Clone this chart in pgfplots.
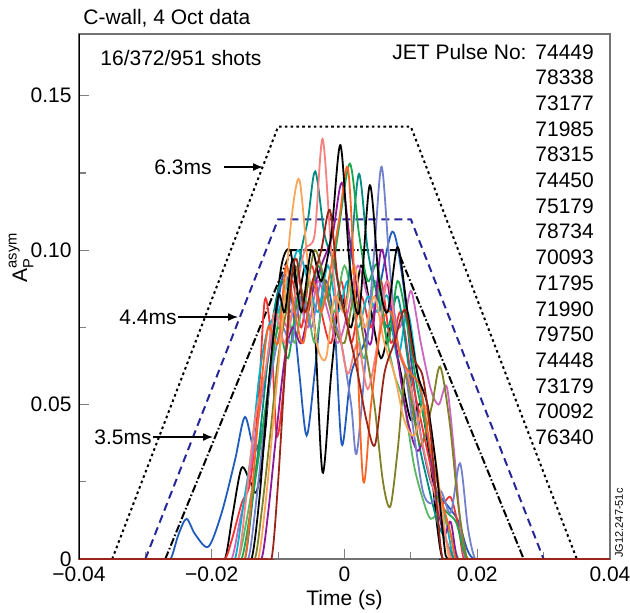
\documentclass[border=0pt]{standalone}
\usepackage{fontspec}
\setmainfont{Liberation Sans}
\usepackage{amsmath}
\usepackage{pgfplots}
\pgfplotsset{compat=1.18}
\usetikzlibrary{calc,arrows.meta}

\definecolor{cBlue}{rgb}{0.13,0.36,0.74}
\definecolor{cRed}{rgb}{0.95,0.20,0.20}
\definecolor{cCyan}{rgb}{0.00,0.70,0.80}
\definecolor{cPink}{rgb}{0.80,0.40,0.75}
\definecolor{cGreen}{rgb}{0.10,0.65,0.30}
\definecolor{cOrRed}{rgb}{0.98,0.40,0.15}
\definecolor{cOlive}{rgb}{0.50,0.50,0.15}
\definecolor{cBrown}{rgb}{0.60,0.15,0.10}
\definecolor{cSalmon}{rgb}{0.97,0.50,0.50}
\definecolor{cLav}{rgb}{0.45,0.50,0.80}
\definecolor{cLtOr}{rgb}{0.98,0.65,0.35}
\definecolor{cTeal}{rgb}{0.00,0.55,0.50}
\definecolor{cPurple}{rgb}{0.55,0.10,0.60}
\definecolor{cLtGreen}{rgb}{0.35,0.72,0.40}
\definecolor{cNavy}{rgb}{0.15,0.15,0.60}

\begin{document}
\fontsize{10.5}{12.6}\selectfont
\begin{tikzpicture}
\begin{axis}[
  scale only axis, width=265.5pt, height=262.5pt,
  xmin=-0.04, xmax=0.04, ymin=0, ymax=0.17,
  scaled ticks=false,
  xtick={-0.04,-0.02,0,0.02,0.04},
  xticklabels={−0.04,−0.02,0,0.02,0.04},
  ytick={0,0.05,0.1,0.15},
  yticklabels={0,0.05,0.10,0.15},
  minor x tick num=1, minor y tick num=1,
  tick pos=left, tick align=inside,
  major tick length=5pt, minor tick length=3.5pt,
  every tick/.style={black!50, line width=0.6pt},
  axis line style={black!55, line width=0.7pt},
  ticklabel style={font=\fontsize{10.5}{12}\selectfont},
  /pgf/number format/assume math mode=true,
  xlabel={Time (s)},
  xlabel style={yshift=2.5pt},
  ylabel={$\text{A}_{\text{P}}^{\text{asym}}$},
  ylabel style={at={(rel axis cs:0,0.575)}, anchor=center, yshift=29pt},
  every axis plot/.append style={line width=0.9pt, smooth, tension=0.5},
]
% envelopes
\addplot[black, sharp plot, line width=1pt, dash pattern=on 1.3pt off 1.6pt]
  coordinates {(-0.035,0) (-0.01,0.14) (0.01,0.14) (0.035,0)};
\addplot[cNavy, sharp plot, line width=1pt, dash pattern=on 4pt off 2.5pt]
  coordinates {(-0.03,0) (-0.01,0.11) (0.01,0.11) (0.03,0)};
\addplot[black, sharp plot, line width=1pt, dash pattern=on 4pt off 1.2pt on 0.8pt off 1.2pt]
  coordinates {(-0.027,0) (-0.008,0.10) (0.008,0.10) (0.027,0)};

% shots
\addplot[cBlue] coordinates {(-0.04,0) (-0.0275,0) (-0.0262,0) (-0.0250,0.008) (-0.0238,0.013)
  (-0.0225,0.008) (-0.0205,0.004) (-0.0185,0.015) (-0.0165,0.032) (-0.0150,0.046) (-0.0135,0.035)
  (-0.0120,0.046) (-0.0105,0.075) (-0.0092,0.092) (-0.0080,0.085) (-0.0068,0.060) (-0.0057,0.040)
  (-0.0045,0.060) (-0.0030,0.090) (-0.0015,0.075) (-0.0004,0.037) (0.0010,0.060) (0.0030,0.070)
  (0.0050,0.085) (0.0072,0.106) (0.0088,0.090) (0.0100,0.065) (0.0115,0.040) (0.0130,0.025)
  (0.0145,0.020) (0.0160,0.016) (0.0172,0.012) (0.0185,0.003) (0.0195,0) (0.0210,0) (0.04,0)};
\addplot[black] coordinates {(-0.04,0) (-0.0195,0) (-0.0180,0) (-0.0168,0.015) (-0.0155,0.0295)
  (-0.0142,0.025) (-0.0132,0.022) (-0.0120,0.040) (-0.0108,0.070) (-0.0095,0.095) (-0.0082,0.100)
  (-0.0070,0.085) (-0.0058,0.095) (-0.0045,0.075) (-0.0033,0.028) (-0.0020,0.060) (-0.0006,0.085)
  (0.0010,0.075) (0.0025,0.095) (0.0040,0.080) (0.0055,0.065) (0.0070,0.075) (0.0085,0.060)
  (0.0100,0.045) (0.0115,0.050) (0.0130,0.030) (0.0140,0.010) (0.0148,0) (0.0163,0) (0.04,0)};
\addplot[cRed] coordinates {(-0.04,0) (-0.0195,0) (-0.0180,0) (-0.0170,0.006) (-0.0155,0.018)
  (-0.0142,0.025) (-0.0130,0.050) (-0.0120,0.084) (-0.0110,0.070) (-0.0102,0.040) (-0.0092,0.055)
  (-0.0080,0.090) (-0.0065,0.075) (-0.0050,0.095) (-0.0035,0.080) (-0.0020,0.070) (-0.0005,0.090)
  (0.0010,0.070) (0.0025,0.085) (0.0040,0.075) (0.0055,0.090) (0.0070,0.070) (0.0085,0.080)
  (0.0100,0.060) (0.0115,0.045) (0.0130,0.030) (0.0145,0.018) (0.0160,0.020) (0.0172,0.010)
  (0.0180,0) (0.0195,0) (0.04,0)};
\addplot[cPink] coordinates {(-0.04,0) (-0.0185,0) (-0.0170,0) (-0.0158,0.012) (-0.0145,0.025)
  (-0.0130,0.045) (-0.0115,0.065) (-0.0100,0.080) (-0.0085,0.075) (-0.0070,0.085) (-0.0055,0.075)
  (-0.0040,0.090) (-0.0025,0.080) (-0.0010,0.070) (0.0005,0.080) (0.0020,0.095) (0.0035,0.085)
  (0.0050,0.080) (0.0065,0.090) (0.0080,0.075) (0.0092,0.080) (0.0101,0.0866) (0.0115,0.070)
  (0.0130,0.055) (0.0142,0.050) (0.0154,0.0558) (0.0165,0.035) (0.0175,0.010) (0.0182,0)
  (0.0197,0) (0.04,0)};
\addplot[cCyan] coordinates {(-0.04,0) (-0.0180,0) (-0.0165,0) (-0.0152,0.018) (-0.0140,0.035)
  (-0.0128,0.060) (-0.0115,0.075) (-0.0100,0.080) (-0.0085,0.090) (-0.0070,0.100) (-0.0055,0.090)
  (-0.0040,0.080) (-0.0025,0.095) (-0.0010,0.080) (0.0005,0.090) (0.0020,0.075) (0.0035,0.085)
  (0.0050,0.080) (0.0065,0.085) (0.0080,0.065) (0.0095,0.080) (0.0110,0.060) (0.0125,0.040)
  (0.0140,0.025) (0.0155,0.010) (0.0165,0) (0.0180,0) (0.04,0)};
\addplot[cLtGreen] coordinates {(-0.04,0) (-0.0175,0) (-0.0160,0) (-0.0148,0.012) (-0.0135,0.028)
  (-0.0120,0.045) (-0.0105,0.070) (-0.0090,0.085) (-0.0075,0.070) (-0.0060,0.085) (-0.0045,0.070)
  (-0.0030,0.085) (-0.0015,0.080) (0.0000,0.095) (0.0015,0.080) (0.0030,0.065) (0.0045,0.090)
  (0.0060,0.075) (0.0075,0.060) (0.0090,0.050) (0.0105,0.030) (0.0120,0.018) (0.0130,0.013)
  (0.0145,0.015) (0.0160,0.008) (0.0172,0) (0.0187,0) (0.04,0)};
\addplot[cTeal] coordinates {(-0.04,0) (-0.0165,0) (-0.0150,0) (-0.0138,0.020) (-0.0125,0.045)
  (-0.0110,0.075) (-0.0095,0.090) (-0.0080,0.080) (-0.0065,0.100) (-0.0055,0.110) (-0.0044,0.1255)
  (-0.0030,0.105) (-0.0015,0.095) (0.0000,0.080) (0.0010,0.100) (0.0022,0.1247) (0.0035,0.100)
  (0.0050,0.085) (0.0065,0.075) (0.0080,0.085) (0.0095,0.065) (0.0110,0.040) (0.0125,0.025)
  (0.0140,0.012) (0.0155,0.005) (0.0165,0) (0.0180,0) (0.04,0)};
\addplot[cGreen] coordinates {(-0.04,0) (-0.0170,0) (-0.0155,0) (-0.0142,0.015) (-0.0128,0.035)
  (-0.0115,0.055) (-0.0100,0.075) (-0.0085,0.065) (-0.0070,0.085) (-0.0055,0.080) (-0.0040,0.095)
  (-0.0025,0.085) (-0.0010,0.105) (0.0008,0.128) (0.0022,0.105) (0.0035,0.090) (0.0050,0.095)
  (0.0065,0.070) (0.0080,0.090) (0.0095,0.075) (0.0110,0.055) (0.0125,0.040) (0.0140,0.020)
  (0.0155,0.015) (0.0168,0.012) (0.0178,0.004) (0.0185,0) (0.0200,0) (0.04,0)};
\addplot[cPurple] coordinates {(-0.04,0) (-0.0140,0) (-0.0125,0) (-0.0115,0.015) (-0.0103,0.040)
  (-0.0090,0.065) (-0.0078,0.075) (-0.0065,0.070) (-0.0050,0.085) (-0.0035,0.095) (-0.0018,0.105)
  (-0.0004,0.1218) (0.0010,0.100) (0.0025,0.080) (0.0040,0.070) (0.0055,0.100) (0.0068,0.085)
  (0.0080,0.065) (0.0095,0.045) (0.0110,0.035) (0.0125,0.040) (0.0138,0.020) (0.0150,0.008)
  (0.0160,0.012) (0.0170,0) (0.0185,0) (0.04,0)};
\addplot[cLav] coordinates {(-0.04,0) (-0.0160,0) (-0.0145,0) (-0.0135,0.015) (-0.0122,0.040)
  (-0.0110,0.060) (-0.0095,0.075) (-0.0080,0.070) (-0.0065,0.085) (-0.0050,0.075) (-0.0035,0.090)
  (-0.0020,0.080) (-0.0005,0.070) (0.0010,0.050) (0.0018,0.034) (0.0030,0.060) (0.0045,0.100)
  (0.0056,0.127) (0.0068,0.095) (0.0080,0.070) (0.0092,0.060) (0.0105,0.040) (0.0118,0.022)
  (0.0130,0.018) (0.0145,0.022) (0.0160,0.015) (0.0174,0.031) (0.0186,0.010) (0.0197,0)
  (0.0212,0) (0.04,0)};
\addplot[cOlive] coordinates {(-0.04,0) (-0.0150,0) (-0.0135,0) (-0.0125,0.015) (-0.0112,0.040)
  (-0.0100,0.065) (-0.0088,0.080) (-0.0075,0.095) (-0.0060,0.085) (-0.0045,0.100) (-0.0030,0.090)
  (-0.0015,0.075) (0.0000,0.070) (0.0015,0.085) (0.0030,0.070) (0.0045,0.050) (0.0058,0.025)
  (0.0069,0.017) (0.0080,0.035) (0.0092,0.060) (0.0105,0.045) (0.0116,0.037) (0.0132,0.050)
  (0.0144,0.0623) (0.0158,0.045) (0.0170,0.020) (0.0180,0.005) (0.0186,0) (0.0200,0) (0.04,0)};
\addplot[cLtOr] coordinates {(-0.04,0) (-0.0145,0) (-0.0130,0) (-0.0118,0.020) (-0.0105,0.050)
  (-0.0092,0.080) (-0.0080,0.110) (-0.0068,0.1228) (-0.0055,0.095) (-0.0042,0.070) (-0.0028,0.065)
  (-0.0015,0.085) (0.0000,0.080) (0.0015,0.095) (0.0030,0.075) (0.0045,0.085) (0.0060,0.070)
  (0.0075,0.060) (0.0090,0.045) (0.0105,0.040) (0.0120,0.050) (0.0135,0.035) (0.0148,0.015)
  (0.0158,0) (0.0173,0) (0.04,0)};
\addplot[cSalmon] coordinates {(-0.04,0) (-0.0175,0) (-0.0160,0) (-0.0148,0.020) (-0.0135,0.045)
  (-0.0120,0.060) (-0.0105,0.080) (-0.0090,0.070) (-0.0075,0.085) (-0.0060,0.100) (-0.0045,0.105)
  (-0.0033,0.136) (-0.0020,0.100) (-0.0008,0.075) (0.0005,0.060) (0.0020,0.070) (0.0035,0.055)
  (0.0050,0.070) (0.0065,0.090) (0.0080,0.070) (0.0095,0.060) (0.0110,0.045) (0.0125,0.030)
  (0.0140,0.018) (0.0155,0.005) (0.0162,0) (0.0177,0) (0.04,0)};
\addplot[cOrRed] coordinates {(-0.04,0) (-0.0165,0) (-0.0150,0) (-0.0140,0.020) (-0.0128,0.050)
  (-0.0115,0.075) (-0.0100,0.070) (-0.0088,0.095) (-0.0075,0.080) (-0.0062,0.070) (-0.0048,0.090)
  (-0.0035,0.080) (-0.0020,0.095) (-0.0008,0.110) (0.0005,0.1267) (0.0015,0.090) (0.0028,0.0256)
  (0.0040,0.050) (0.0055,0.075) (0.0070,0.080) (0.0085,0.065) (0.0100,0.060) (0.0115,0.055)
  (0.0130,0.035) (0.0145,0.020) (0.0158,0.010) (0.0168,0) (0.0183,0) (0.04,0)};
\addplot[black] coordinates {(-0.04,0) (-0.0155,0) (-0.0140,0) (-0.0128,0.020) (-0.0115,0.055)
  (-0.0100,0.085) (-0.0090,0.080) (-0.0078,0.097) (-0.0065,0.080) (-0.0050,0.100) (-0.0035,0.090)
  (-0.0020,0.105) (-0.0006,0.134) (0.0008,0.095) (0.0022,0.080) (0.0038,0.121) (0.0052,0.090)
  (0.0065,0.080) (0.0080,0.101) (0.0095,0.080) (0.0110,0.060) (0.0125,0.050) (0.0138,0.030)
  (0.0150,0.005) (0.0155,0) (0.0170,0) (0.04,0)};
\addplot[cBrown] coordinates {(-0.04,0) (-0.0125,0) (-0.0110,0) (-0.0100,0.025) (-0.0090,0.060)
  (-0.0080,0.090) (-0.0072,0.097) (-0.0060,0.080) (-0.0048,0.090) (-0.0035,0.100) (-0.0022,0.113)
  (-0.0010,0.090) (0.0005,0.075) (0.0020,0.060) (0.0033,0.045) (0.0046,0.037) (0.0060,0.060)
  (0.0075,0.070) (0.0091,0.0807) (0.0105,0.065) (0.0118,0.059) (0.0130,0.040) (0.0140,0.015)
  (0.0148,0) (0.0163,0) (0.04,0)};

\coordinate (O) at (rel axis cs:0,0);
\draw[black, line width=0.7pt] (rel axis cs:0,1) -- (rel axis cs:0,0);
\end{axis}

% annotations (offsets from the lower left corner of the axis, 1 px = 0.5 pt)
\node[anchor=base west, inner sep=0] at ($(O)+(2pt,267pt)$) {C-wall, 4 Oct data};
\node[anchor=base west, inner sep=0] at ($(O)+(10.5pt,247pt)$) {16/372/951 shots};
\node[anchor=base east, inner sep=0] at ($(O)+(224pt,250pt)$) {JET Pulse No:};
\foreach \n [count=\i from 0] in {74449,78338,73177,71985,78315,74450,75179,78734,
    70093,71795,71990,79750,74448,73179,70092,76340}
  \node[anchor=base west, inner sep=0] at ($(O)+(228pt,{250pt-\i*12.85pt})$) {\n};

\node[anchor=base east, inner sep=0] at ($(O)+(66.5pt,192.3pt)$) {6.3ms};
\draw[-{Latex[length=5pt,width=4pt]}, line width=0.7pt] ($(O)+(72.5pt,196pt)$) -- ($(O)+(92pt,196pt)$);
\node[anchor=base east, inner sep=0] at ($(O)+(49pt,117.3pt)$) {4.4ms};
\draw[-{Latex[length=5pt,width=4pt]}, line width=0.7pt] ($(O)+(49.5pt,121pt)$) -- ($(O)+(79.5pt,121pt)$);
\node[anchor=base east, inner sep=0] at ($(O)+(36.5pt,57.3pt)$) {3.5ms};
\draw[-{Latex[length=5pt,width=4pt]}, line width=0.7pt] ($(O)+(37pt,61pt)$) -- ($(O)+(67pt,61pt)$);

\node[rotate=90, inner sep=0, font=\fontsize{5.5}{6}\selectfont] at ($(O)+(270pt,18pt)$) {JG12.247-51c};

\pgfresetboundingbox
\path[use as bounding box] ($(O)+(-39.5pt,-26.5pt)$) rectangle ++(315pt,306pt);
\end{tikzpicture}
\end{document}
